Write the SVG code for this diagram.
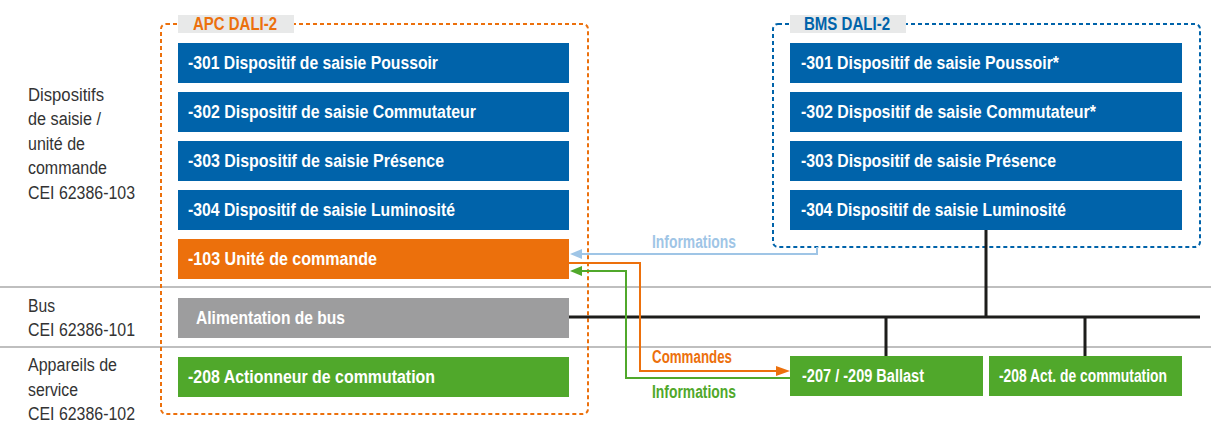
<svg xmlns="http://www.w3.org/2000/svg" width="1211" height="426" viewBox="0 0 1211 426">
<style>
.t{font-family:"Liberation Sans",Arial,sans-serif;font-weight:bold;font-size:18px;fill:#fff}
.l{font-family:"Liberation Sans",Arial,sans-serif;font-size:18px;fill:#333}
.h{font-family:"Liberation Sans",Arial,sans-serif;font-weight:bold;font-size:18px}
.blue{fill:#0063aa}.orange{fill:#ec700c}.gray{fill:#9d9d9e}.green{fill:#50a82b}
.sep{stroke:#aaaaaa;stroke-width:1.5}
.bus{stroke:#1d1d1b;stroke-width:3;fill:none}
</style>
<rect width="1211" height="426" fill="#fff"/>
<line class="sep" x1="0" y1="287" x2="1211" y2="287"/>
<line class="sep" x1="0" y1="347" x2="1211" y2="347"/>
<g id="labels">
<text class="l" x="28" y="100.5" textLength="76" lengthAdjust="spacingAndGlyphs">Dispositifs</text>
<text class="l" x="28" y="125" textLength="73" lengthAdjust="spacingAndGlyphs">de saisie /</text>
<text class="l" x="28" y="149.5" textLength="57" lengthAdjust="spacingAndGlyphs">unité de</text>
<text class="l" x="28" y="174" textLength="79" lengthAdjust="spacingAndGlyphs">commande</text>
<text class="l" x="28" y="198.5" textLength="107" lengthAdjust="spacingAndGlyphs">CEI 62386-103</text>
<text class="l" x="28" y="311.5" textLength="27" lengthAdjust="spacingAndGlyphs">Bus</text>
<text class="l" x="28" y="336" textLength="107" lengthAdjust="spacingAndGlyphs">CEI 62386-101</text>
<text class="l" x="28" y="371" textLength="89" lengthAdjust="spacingAndGlyphs">Appareils de</text>
<text class="l" x="28" y="395.5" textLength="50" lengthAdjust="spacingAndGlyphs">service</text>
<text class="l" x="28" y="420" textLength="107" lengthAdjust="spacingAndGlyphs">CEI 62386-102</text>
</g>
<g id="apc">
<rect x="161" y="24" width="427" height="390" rx="5" fill="none" stroke="#ec700c" stroke-width="2" stroke-dasharray="4 3"/>
<rect x="178" y="15" width="116" height="18" fill="#e8e9e9"/>
<text class="h" x="193" y="30" style="fill:#ec700c" textLength="84" lengthAdjust="spacingAndGlyphs">APC DALI-2</text>
</g>
<g id="bms">
<rect x="773" y="24" width="427" height="223" rx="5" fill="none" stroke="#0063aa" stroke-width="2" stroke-dasharray="4 3"/>
<rect x="790" y="15" width="116" height="18" fill="#e8e9e9"/>
<text class="h" x="804" y="30" style="fill:#0063aa" textLength="86" lengthAdjust="spacingAndGlyphs">BMS DALI-2</text>
</g>
<g id="connectors">
<path class="bus" d="M569,317 H1200 M986,229 V317 M886,317 V356 M1085,317 V356"/>
<path d="M817,247 V254 H580" fill="none" stroke="#9fc5e6" stroke-width="2"/>
<path d="M570,254 L582,249 L582,259 z" fill="#9fc5e6"/>
<path d="M569,263 H640 V371 H778" fill="none" stroke="#ec700c" stroke-width="2"/>
<path d="M790,371 L776,366 L776,376 z" fill="#ec700c"/>
<path d="M790,378 H626 V271 H580" fill="none" stroke="#50a82b" stroke-width="2"/>
<path d="M570,271 L582,266 L582,276 z" fill="#50a82b"/>
<text class="h" x="652" y="248" style="fill:#9fc5e6" textLength="84" lengthAdjust="spacingAndGlyphs">Informations</text>
<text class="h" x="652" y="363" style="fill:#ec700c" textLength="80" lengthAdjust="spacingAndGlyphs">Commandes</text>
<text class="h" x="652" y="398" style="fill:#50a82b" textLength="84" lengthAdjust="spacingAndGlyphs">Informations</text>
</g>
<g id="n301"><rect class="blue" x="178" y="43" width="391" height="40"/><text class="t" x="188" y="68.5" textLength="250" lengthAdjust="spacingAndGlyphs">-301 Dispositif de saisie Poussoir</text></g>
<g id="n302"><rect class="blue" x="178" y="92" width="391" height="40"/><text class="t" x="188" y="117.5" textLength="288" lengthAdjust="spacingAndGlyphs">-302 Dispositif de saisie Commutateur</text></g>
<g id="n303"><rect class="blue" x="178" y="141" width="391" height="40"/><text class="t" x="188" y="166.5" textLength="256" lengthAdjust="spacingAndGlyphs">-303 Dispositif de saisie Présence</text></g>
<g id="n304"><rect class="blue" x="178" y="190" width="391" height="40"/><text class="t" x="188" y="215.5" textLength="267" lengthAdjust="spacingAndGlyphs">-304 Dispositif de saisie Luminosité</text></g>
<g id="n103"><rect class="orange" x="178" y="239" width="391" height="40"/><text class="t" x="188" y="264.5" textLength="189" lengthAdjust="spacingAndGlyphs">-103 Unité de commande</text></g>
<g id="psu"><rect class="gray" x="178" y="298" width="391" height="40"/><text class="t" x="196" y="323.5" textLength="149" lengthAdjust="spacingAndGlyphs">Alimentation de bus</text></g>
<g id="n208"><rect class="green" x="178" y="357" width="391" height="40"/><text class="t" x="188" y="382.5" textLength="247" lengthAdjust="spacingAndGlyphs">-208 Actionneur de commutation</text></g>
<g id="b301"><rect class="blue" x="790" y="43" width="392" height="40"/><text class="t" x="801" y="68.5" textLength="258" lengthAdjust="spacingAndGlyphs">-301 Dispositif de saisie Poussoir*</text></g>
<g id="b302"><rect class="blue" x="790" y="92" width="392" height="40"/><text class="t" x="801" y="117.5" textLength="295" lengthAdjust="spacingAndGlyphs">-302 Dispositif de saisie Commutateur*</text></g>
<g id="b303"><rect class="blue" x="790" y="141" width="392" height="40"/><text class="t" x="801" y="166.5" textLength="255" lengthAdjust="spacingAndGlyphs">-303 Dispositif de saisie Présence</text></g>
<g id="b304"><rect class="blue" x="790" y="190" width="392" height="40"/><text class="t" x="801" y="215.5" textLength="265" lengthAdjust="spacingAndGlyphs">-304 Dispositif de saisie Luminosité</text></g>
<g id="ballast"><rect class="green" x="790" y="356" width="193" height="40"/><text class="t" x="802" y="381.5" textLength="122" lengthAdjust="spacingAndGlyphs">-207 / -209 Ballast</text></g>
<g id="act"><rect class="green" x="989" y="356" width="193" height="40"/><text class="t" transform="translate(999,381.5) scale(0.77,1)" x="0" y="0">-208 Act. de commutation</text></g>
</svg>
